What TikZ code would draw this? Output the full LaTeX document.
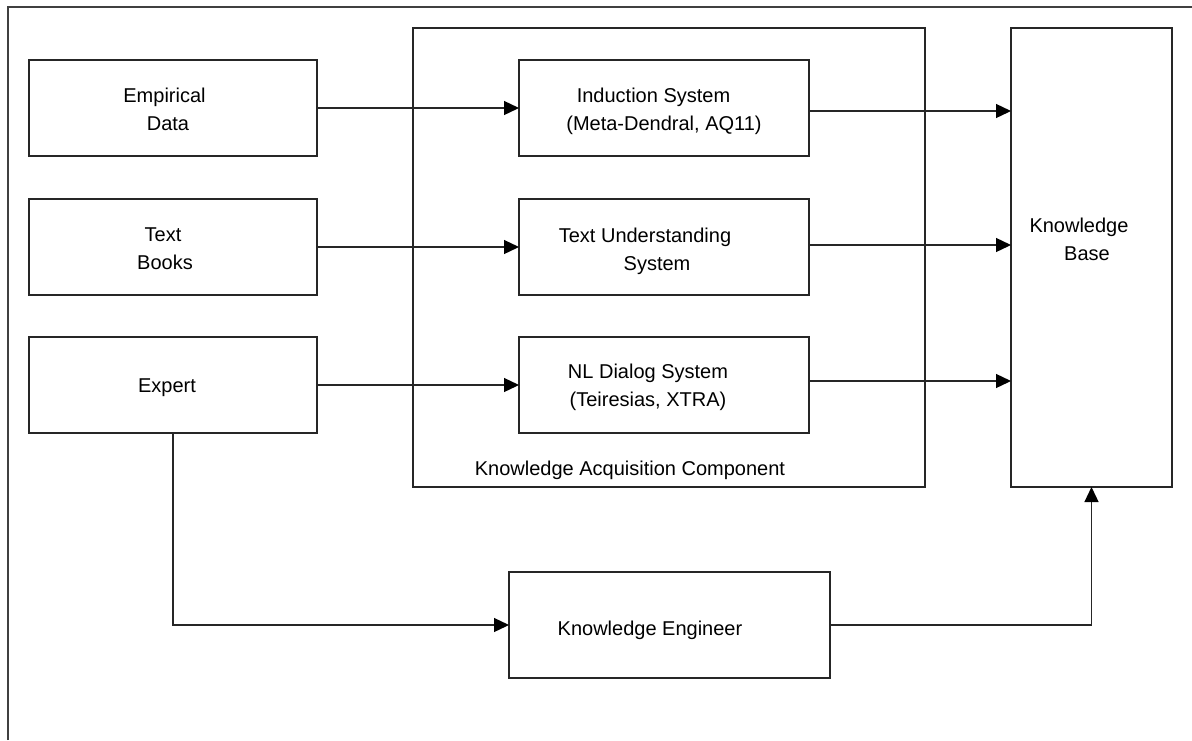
\documentclass[tikz,border=0pt]{standalone}
\usepackage{fontspec}
\setmainfont{Liberation Sans}
\usetikzlibrary{arrows.meta}
\begin{document}
\begin{tikzpicture}[x=1pt,y=-1pt,
  line width=1.3pt,
  every node/.style={font=\fontsize{20}{28}\selectfont, text=black},
  box/.style={draw=black!85, fill=none, inner sep=0pt, outer sep=0pt, rectangle},
  lbl/.style={anchor=base, inner sep=0pt},
  conn/.style={draw=black!85, -{Triangle[length=15pt,width=14pt,color=black]}}]
\useasboundingbox (0,0) rectangle (1192,740);
% open frame along the top and left
\draw[black!75] (8,740) -- (8,7) -- (1192,7);

% sources
\node[box, minimum width=288pt, minimum height=96pt] (emp) at (173,108) {};
\node[box, minimum width=288pt, minimum height=96pt] (txt) at (173,247) {};
\node[box, minimum width=288pt, minimum height=96pt] (exp) at (173,385) {};

% acquisition component
\node[box, minimum width=512pt, minimum height=459pt] (kac) at (669,257.5) {};
\node[box, minimum width=290pt, minimum height=96pt] (ind) at (664,108) {};
\node[box, minimum width=290pt, minimum height=96pt] (tus) at (664,247) {};
\node[box, minimum width=290pt, minimum height=96pt] (nld) at (664,385) {};

% knowledge base and engineer
\node[box, minimum width=161pt, minimum height=459pt] (kb) at (1091.5,257.5) {};
\node[box, minimum width=321pt, minimum height=106pt] (ke) at (669.5,625) {};

% labels
\node[lbl] (t1) at (164.5,102) {Empirical};
\node[lbl] (t2) at (168,130) {Data};
\node[lbl] (t3) at (163,241) {Text};
\node[lbl] (t4) at (165,269) {Books};
\node[lbl] (t5) at (167,392) {Expert};
\node[lbl] (t6) at (653.5,102) {Induction System};
\node[lbl] (t7) at (664,130) {(Meta-Dendral, AQ11)};
\node[lbl] (t8) at (645,242) {Text Understanding};
\node[lbl] (t9) at (657,270) {System};
\node[lbl] (t10) at (648,378) {NL Dialog System};
\node[lbl] (t11) at (648,406) {(Teiresias, XTRA)};
\node[lbl] (t12) at (1079,232) {Knowledge};
\node[lbl] (t13) at (1087,260) {Base};
\node[lbl] (t14) at (650,635) {Knowledge Engineer};
\node[lbl] (t15) at (630,475) {Knowledge Acquisition Component};

% connectors (yshift is in page units: negative moves down)
\draw[conn] (emp.east) -- (ind.west);
\draw[conn] (txt.east) -- (tus.west);
\draw[conn] (exp.east) -- (nld.west);
\draw[conn] ([yshift=-3pt]ind.east) -- ([yshift=-3pt]ind.east -| kb.west);
\draw[conn] ([yshift=2pt]tus.east) -- ([yshift=2pt]tus.east -| kb.west);
\draw[conn] ([yshift=4pt]nld.east) -- ([yshift=4pt]nld.east -| kb.west);
\draw[conn] (exp.south) |- (ke.west);
\draw[conn] (ke.east) -| (kb.south);
\end{tikzpicture}
\end{document}
